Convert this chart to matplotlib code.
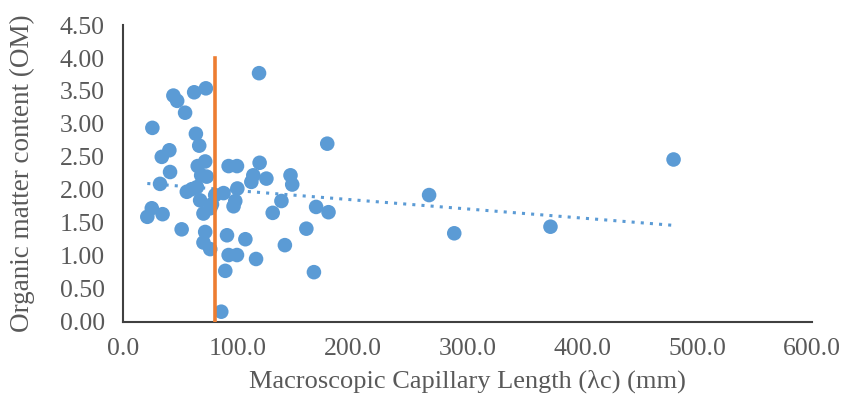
import numpy as np
import matplotlib
matplotlib.use("Agg")
import matplotlib.pyplot as plt

capillary_length = [21.2, 25.1, 25.6, 32.3, 33.8, 34.5, 40.4, 41.0, 43.9, 47.2,
                    51.1, 54.1, 55.6, 60.0, 62.0, 63.5, 64.4, 65.1, 66.4, 67.2,
                    68.1, 71.6, 72.9, 70.1, 71.6, 70.1, 76.0, 72.2, 77.5, 76.0,
                    80.3, 87.6, 85.6, 89.1, 90.6, 92.0, 99.3, 92.0, 99.3, 99.6,
                    97.8, 96.3, 106.6, 111.8, 113.5, 115.9, 118.5, 119.0, 124.9, 130.4,
                    138.0, 141.0, 145.9, 147.4, 159.7, 166.3, 168.2, 177.9, 179.0, 266.6,
                    288.5, 372.3, 479.5]
organic_matter = [1.59, 1.72, 2.94, 2.09, 2.50, 1.63, 2.60, 2.27, 3.43, 3.35,
                  1.40, 3.17, 1.97, 2.01, 3.48, 2.85, 2.04, 2.36, 2.67, 1.84,
                  2.22, 2.43, 2.20, 1.64, 1.36, 1.20, 1.10, 3.54, 1.78, 1.72,
                  1.92, 1.95, 0.15, 0.77, 1.31, 2.36, 2.36, 1.01, 1.01, 2.02,
                  1.83, 1.75, 1.25, 2.12, 2.22, 0.95, 3.77, 2.41, 2.17, 1.65,
                  1.83, 1.16, 2.22, 2.08, 1.41, 0.75, 1.74, 2.70, 1.66, 1.92,
                  1.34, 1.44, 2.46]
threshold_x = 80.0
threshold_y = [0.0, 4.0]
x_ticks = [0, 100, 200, 300, 400, 500, 600]
y_ticks = [0.0, 0.5, 1.0, 1.5, 2.0, 2.5, 3.0, 3.5, 4.0, 4.5]

plt.rcParams['font.family'] = ['Liberation Serif', 'DejaVu Serif']
text_color = '#595959'

fig = plt.figure(figsize=(8.44, 3.98), dpi=100)
ax = fig.add_axes([0.1457, 0.192, 0.962 - 0.1457, 0.937 - 0.192])

x = np.array(capillary_length)
y = np.array(organic_matter)

ax.scatter(x, y, s=110, color='#5B9BD5', edgecolors='none', zorder=3)

coef = np.polyfit(x, y, 1)
xt = np.array([x.min(), x.max()])
ax.plot(xt, np.polyval(coef, xt), linestyle=(0, (1, 2)), color='#5B9BD5',
        linewidth=2.2, zorder=2)

ax.plot([threshold_x, threshold_x], threshold_y, color='#ED7D31', linewidth=2.6, zorder=4)

ax.set_xlim(0, 600)
ax.set_ylim(0, 4.5)
ax.set_xticks(x_ticks)
ax.set_xticklabels([f"{v:.1f}" for v in x_ticks])
ax.set_yticks(y_ticks)
ax.set_yticklabels([f"{v:.2f}" for v in y_ticks])
ax.tick_params(length=0, labelsize=18.5, labelcolor=text_color)
ax.tick_params(axis='x', pad=12)
ax.tick_params(axis='y', pad=13)

for side in ['top', 'right']:
    ax.spines[side].set_visible(False)
for side in ['left', 'bottom']:
    ax.spines[side].set_color('#404040')
    ax.spines[side].set_linewidth(1.5)

ax.set_xlabel('Macroscopic Capillary Length (λc) (mm)', fontsize=19, color=text_color, labelpad=7)
ax.set_ylabel('Organic matter content (OM)', fontsize=19.5, color=text_color, labelpad=18)

fig.savefig('out.png', dpi=100)
